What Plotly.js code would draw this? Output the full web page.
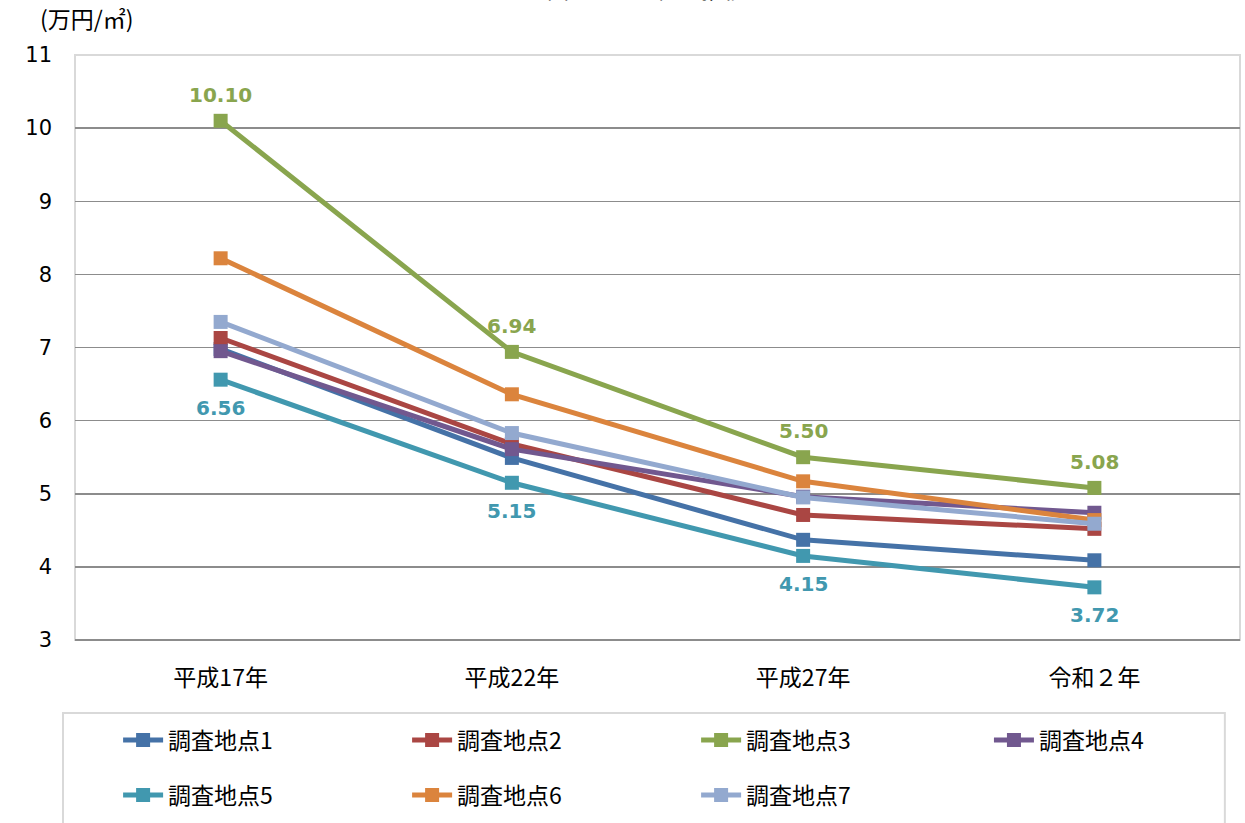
<!DOCTYPE html>
<html>
<head>
<meta charset="utf-8">
<script src="https://cdn.plot.ly/plotly-3.0.1.min.js"></script>
<style>html,body{margin:0;padding:0;background:#fff;}#chart{width:1245px;height:823px;}</style>
</head>
<body>
<div id="chart"></div>
<script>
const categories = ['平成17年', '平成22年', '平成27年', '令和２年'];
const seriesNames = ['調査地点1', '調査地点2', '調査地点3', '調査地点4', '調査地点5', '調査地点6', '調査地点7'];
const site1 = [6.98, 5.49, 4.37, 4.09];
const site2 = [7.13, 5.68, 4.71, 4.52];
const site3 = [10.10, 6.94, 5.50, 5.08];
const site4 = [6.95, 5.61, 4.96, 4.74];
const site5 = [6.56, 5.15, 4.15, 3.72];
const site6 = [8.22, 6.36, 5.17, 4.64];
const site7 = [7.35, 5.83, 4.95, 4.59];
const colors = ['#4572A7', '#AA4643', '#89A54E', '#71588F', '#4198AF', '#DB843D', '#93A9CF'];
const allSeries = [site1, site2, site3, site4, site5, site6, site7];
const labelShift = {2: 26, 4: -28};
const legendOf = ['legend', 'legend', 'legend', 'legend3', 'legend2', 'legend2', 'legend2'];

const FONT = '"DejaVu Sans", "Noto Sans CJK JP", sans-serif';
const CJK = '"Noto Sans CJK JP", "DejaVu Sans", sans-serif';
// draw order: keep green and teal visible on top
const order = [0, 1, 3, 5, 6, 4, 2];
const traces = [];
order.forEach(i => {
  traces.push({
    type: 'scatter',
    x: categories,
    y: allSeries[i],
    name: seriesNames[i],
    mode: 'lines+markers',
    line: {color: colors[i], width: 5},
    marker: {symbol: 'square', size: 14, color: colors[i]},
    legend: legendOf[i],
    legendrank: i + 1,
    hoverinfo: 'x+y+name'
  });
});

const annotations = [
  {text: '(万円/㎡)', xref: 'paper', yref: 'paper', x: -0.032, y: 1.03, xanchor: 'left', yanchor: 'bottom',
   showarrow: false, font: {family: CJK, size: 23, color: '#000'}},
  {text: '図　　　地価の推移', xref: 'paper', yref: 'paper', x: 0.49, y: 1.0838, xanchor: 'center', yanchor: 'bottom',
   showarrow: false, font: {family: CJK, size: 22, color: '#000'}}
];
Object.keys(labelShift).forEach(k => {
  const i = +k;
  allSeries[i].forEach((v, j) => {
    annotations.push({
      x: categories[j], y: v, xref: 'x', yref: 'y',
      text: v.toFixed(2), showarrow: false,
      yshift: labelShift[i],
      font: {family: FONT, size: 20, color: colors[i], weight: 'bold'}
    });
  });
});

const legendCommon = {
  orientation: 'h',
  xanchor: 'left',
  yanchor: 'middle',
  x: 0.037,
  entrywidth: 234,
  entrywidthmode: 'pixels',
  font: {family: CJK, size: 23, color: '#000'},
  bgcolor: 'rgba(0,0,0,0)',
  traceorder: 'normal',
  itemwidth: 40
};
const legendSingle = Object.assign({}, legendCommon);
delete legendSingle.entrywidth;
delete legendSingle.entrywidthmode;

const layout = {
  width: 1245,
  height: 823,
  margin: {l: 75, r: 5, t: 55, b: 183, autoexpand: false},
  paper_bgcolor: '#fff',
  plot_bgcolor: '#fff',
  showlegend: true,
  font: {family: FONT, size: 18, color: '#000'},
  xaxis: {
    type: 'category',
    range: [-0.5, 3.5],
    showgrid: false,
    zeroline: false,
    showline: false,
    ticks: '',
    tickfont: {family: CJK, size: 23, color: '#000'},
    ticklabelstandoff: 22,
    fixedrange: true
  },
  yaxis: {
    range: [3, 11],
    dtick: 1,
    tick0: 3,
    showgrid: true,
    gridcolor: '#8c8c8c',
    gridwidth: 1.5,
    zeroline: false,
    showline: false,
    ticks: '',
    tickfont: {family: FONT, size: 21, color: '#000'},
    ticklabelstandoff: 22,
    fixedrange: true
  },
  legend: Object.assign({}, legendCommon, {y: -0.171}),
  legend3: Object.assign({}, legendSingle, {y: -0.171, x: 0.7845}),
  legend2: Object.assign({}, legendCommon, {y: -0.265}),
  shapes: [
    {type: 'rect', xref: 'paper', yref: 'paper', x0: 0, x1: 1, y0: 0, y1: 1,
     line: {color: '#d9d9d9', width: 2}, layer: 'below'},
    {type: 'line', xref: 'paper', yref: 'paper', x0: 0, x1: 1, y0: 0, y1: 0,
     line: {color: '#8c8c8c', width: 2}, layer: 'above'},
    {type: 'rect', xref: 'paper', yref: 'paper', x0: -0.0103, x1: 0.987, y0: -0.1248, y1: -0.36,
     line: {color: '#d9d9d9', width: 2}, layer: 'below'}
  ],
  annotations: annotations
};

Plotly.newPlot('chart', traces, layout, {displayModeBar: false, staticPlot: true});
</script>
</body>
</html>
